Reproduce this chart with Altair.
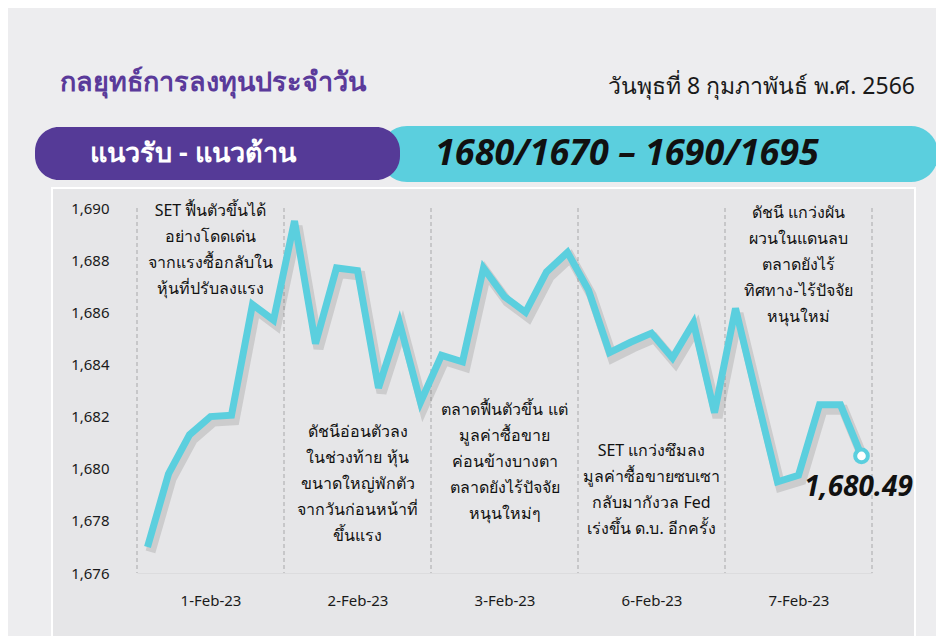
import altair as alt
import pandas as pd

# ---- data ----
days = ["1-Feb-23", "2-Feb-23", "3-Feb-23", "6-Feb-23", "7-Feb-23"]
set_index = [
    1677.0, 1679.8, 1681.3, 1682.0, 1682.05, 1686.3, 1685.7,
    1689.5, 1684.8, 1687.7, 1687.6, 1683.1, 1685.6, 1682.55,
    1684.35, 1684.1, 1687.7, 1686.6, 1686.0, 1687.55, 1688.3,
    1686.85, 1684.45, 1684.85, 1685.2, 1684.25, 1685.6, 1682.15,
    1686.15, 1682.8, 1679.5, 1679.75, 1682.45, 1682.45, 1680.49,
]
last_label = "1,680.49"
notes = [
    ["SET ฟื้นตัวขึ้นได้", "อย่างโดดเด่น", "จากแรงซื้อกลับใน", "หุ้นที่ปรับลงแรง"],
    ["ดัชนีอ่อนตัวลง", "ในช่วงท้าย หุ้น", "ขนาดใหญ่พักตัว", "จากวันก่อนหน้าที่", "ขึ้นแรง"],
    ["ตลาดฟื้นตัวขึ้น แต่", "มูลค่าซื้อขาย", "ค่อนข้างบางตา", "ตลาดยังไร้ปัจจัย", "หนุนใหม่ๆ"],
    ["SET แกว่งซึมลง", "มูลค่าซื้อขายซบเซา", "กลับมากังวล Fed", "เร่งขึ้น ด.บ. อีกครั้ง"],
    ["ดัชนี แกว่งผัน", "ผวนในแดนลบ", "ตลาดยังไร้", "ทิศทาง-ไร้ปัจจัย", "หนุนใหม่"],
]
note_top = [1690.2, 1681.7, 1682.55, 1681.0, 1690.1]
title_text = "กลยุทธ์การลงทุนประจำวัน"
date_text = "วันพุธที่ 8 กุมภาพันธ์ พ.ศ. 2566"
band_left = "แนวรับ - แนวต้าน"
band_right = "1680/1670 – 1690/1695"

PER_DAY = 7
FONT = "Noto Sans"
CYAN = "#5BCFDE"
PURPLE = "#553A97"

df = pd.DataFrame({"i": list(range(len(set_index))), "v": set_index})
last = df.tail(1)
div_df = pd.DataFrame({"b": [k * PER_DAY - 0.5 for k in range(len(days) + 1)]})
note_df = pd.DataFrame({
    "i": [k * PER_DAY + (PER_DAY - 1) / 2 for k in range(len(days))],
    "t": ["\n".join(n) for n in notes],
    "y": note_top,
})

W, H = 735, 365
xs = alt.Scale(domain=[-0.5, len(set_index) - 0.5], nice=False, zero=False)
ys = alt.Scale(domain=[1676, 1690], nice=False, zero=False)
label_expr = "[" + ",".join("'" + d + "'" for d in days) + "][floor(datum.value/%d)]" % PER_DAY

x_axis = alt.Axis(
    values=[k * PER_DAY + 3 for k in range(len(days))], labelExpr=label_expr,
    title=None, ticks=False, grid=False, domain=True, domainColor="#DCDCDE",
    labelFont=FONT, labelFontSize=15, labelColor="#1a1a1a", labelPadding=20, zindex=2)
y_axis = alt.Axis(
    values=list(range(1676, 1691, 2)), format=",", title=None, ticks=False,
    grid=False, domain=False, labelFont=FONT, labelFontSize=15,
    labelColor="#1a1a1a", labelPadding=28, zindex=2)

# decorations (pixel positions relative to plot area)
deco = alt.Chart(pd.DataFrame({"a": [0]}))
bg_panel = deco.mark_rect(fill="#E6E6E8", stroke="#FFFFFF", strokeWidth=2).encode(
    x=alt.value(-85), x2=alt.value(778), y=alt.value(-20), y2=alt.value(440))
cyan_bar = deco.mark_rect(fill=CYAN, cornerRadius=27).encode(
    x=alt.value(243), x2=alt.value(801), y=alt.value(-82), y2=alt.value(-26))
purple_bar = deco.mark_rect(fill=PURPLE, cornerRadius=24).encode(
    x=alt.value(-102), x2=alt.value(263), y=alt.value(-81), y2=alt.value(-28))
side_tab = deco.mark_rect(fill=PURPLE, cornerRadius=2).encode(
    x=alt.value(-140), x2=alt.value(-133), y=alt.value(170), y2=alt.value(193))
t_title = deco.mark_text(text=title_text, font=FONT, fontSize=27, fontWeight="bold",
                         color="#5A3A9A", align="left", baseline="middle").encode(
    x=alt.value(-77), y=alt.value(-125))
t_date = deco.mark_text(text=date_text, font=FONT, fontSize=23, color="#1a1a1a",
                        align="right", baseline="middle").encode(
    x=alt.value(778), y=alt.value(-121))
t_left = deco.mark_text(text=band_left, font=FONT, fontSize=27, fontWeight="bold",
                        color="white", align="left", baseline="middle").encode(
    x=alt.value(-47), y=alt.value(-54))
t_right = deco.mark_text(text=band_right, font=FONT, fontSize=36, fontWeight="bold",
                         fontStyle="italic", color="#111111", align="left",
                         baseline="middle").encode(x=alt.value(298), y=alt.value(-54))

dividers = alt.Chart(div_df).mark_rule(color="#A8A8AA", strokeDash=[4, 3], strokeWidth=1).encode(
    x=alt.X("b:Q", scale=xs, axis=x_axis), y=alt.value(0), y2=alt.value(H))

note_layer = alt.Chart(note_df).mark_text(
    font=FONT, fontSize=16, lineBreak="\n", lineHeight=26, baseline="top",
    align="center", color="#111111").encode(
    x=alt.X("i:Q", scale=xs, axis=x_axis), y=alt.Y("y:Q", scale=ys, axis=y_axis), text="t:N")

base = alt.Chart(df)
x_enc = alt.X("i:Q", scale=xs, axis=x_axis)
y_enc = alt.Y("v:Q", scale=ys, axis=y_axis)
shadow = base.mark_line(color="#444444", opacity=0.16, strokeWidth=10, xOffset=3, yOffset=5,
                        strokeJoin="miter").encode(x=x_enc, y=y_enc)
line = base.mark_line(color=CYAN, strokeWidth=7, strokeJoin="miter").encode(x=x_enc, y=y_enc)
endpoint = alt.Chart(last).mark_point(filled=True, fill="white", stroke=CYAN, strokeWidth=4,
                                      size=160, opacity=1).encode(x=x_enc, y=y_enc)
end_label = alt.Chart(last).mark_text(text=last_label, font=FONT, fontSize=28, fontWeight="bold",
                                      fontStyle="italic", color="#111111", align="center",
                                      baseline="middle", dx=-3, dy=32).encode(x=x_enc, y=y_enc)

chart = alt.layer(
    bg_panel, cyan_bar, purple_bar, side_tab, t_title, t_date, t_left, t_right,
    dividers, note_layer, shadow, line, endpoint, end_label,
).properties(
    width=W, height=H,
    padding={"left": 129, "top": 200, "right": 64, "bottom": 63},
    autosize=alt.AutoSizeParams(type="none"),
    background="#EDEDEF",
).configure_view(stroke=None)

chart.save("out.html", embed_options={"renderer": "svg", "actions": False})
